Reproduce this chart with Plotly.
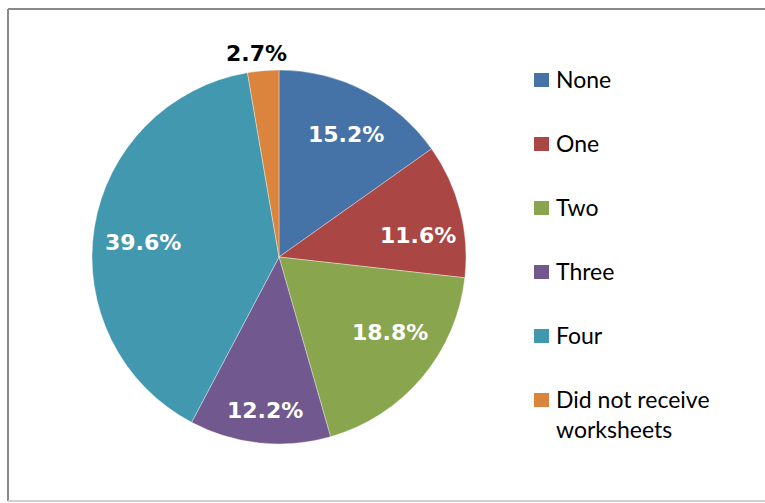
import math
import plotly.graph_objects as go

# Number of worksheets received
categories = ["None", "One", "Two", "Three", "Four", "Did not receive<br>worksheets"]
shares = [15.2, 11.6, 18.8, 12.2, 39.6, 2.7]
colors = ["#4572A7", "#AA4643", "#89A54E", "#71588F", "#4198AF", "#DB843D"]

W, H = 765, 503
cx, cy, R = 279, 257, 187  # pie centre / radius in px

# label placement: distance from centre (px) and small angular nudge (deg)
label_r = [141, 141, 133, 153, 137, 206]
label_nudge = [1.2, 5.0, -6.6, -0.5, -2.3, -1.5]
label_color = ["white"] * 5 + ["black"]

fig = go.Figure()
fig.add_trace(go.Pie(
    labels=categories,
    values=shares,
    sort=False,
    direction="clockwise",
    rotation=0,
    marker=dict(colors=colors, line=dict(color="rgba(255,255,255,0.6)", width=0.6)),
    textinfo="none",
    hoverinfo="label+value",
    showlegend=False,
    domain=dict(x=[(cx - R) / W, (cx + R) / W], y=[1 - (cy + R) / H, 1 - (cy - R) / H]),
))

shapes = []
annotations = []

# Percentage labels at each slice's mid-angle
total = sum(shares)
cum = 0.0
for v, r, nudge, tc in zip(shares, label_r, label_nudge, label_color):
    theta = math.radians((cum + v / 2) / total * 360 + nudge)
    cum += v
    px = cx + r * math.sin(theta)
    py = cy - r * math.cos(theta)
    annotations.append(dict(xref="paper", yref="paper", x=px / W, y=1 - (py + 1.5) / H,
                            xanchor="center", yanchor="middle", showarrow=False,
                            text=f"{v:.1f}%",
                            font=dict(family="DejaVu Sans", size=22, color=tc, weight="bold")))

# Legend drawn as swatches + text
lx, ly0, dy = 534, 80, 64
for i, (name, col) in enumerate(zip(categories, colors)):
    yc = ly0 + i * dy
    shapes.append(dict(type="rect", xref="paper", yref="paper",
                       x0=lx / W, x1=(lx + 15) / W,
                       y0=1 - (yc + 7) / H, y1=1 - (yc - 7) / H,
                       fillcolor=col, line=dict(width=0)))
    annotations.append(dict(xref="paper", yref="paper", x=(lx + 20) / W, y=1 - (yc - 17) / H,
                            xanchor="left", yanchor="top", showarrow=False, align="left",
                            text=name, font=dict(family="Lato", size=23, color="black")))

# Chart frame
shapes.append(dict(type="line", xref="paper", yref="paper", x0=8 / W, x1=1.01, y0=1 - 9 / H, y1=1 - 9 / H,
                   line=dict(color="#8a8a8a", width=2)))
shapes.append(dict(type="line", xref="paper", yref="paper", x0=8 / W, x1=8 / W, y0=1 - 9 / H, y1=1 - 501 / H,
                   line=dict(color="#8a8a8a", width=2)))
shapes.append(dict(type="line", xref="paper", yref="paper", x0=8 / W, x1=1.01, y0=1 - 501 / H, y1=1 - 501 / H,
                   line=dict(color="#d0d0d0", width=2)))

fig.update_layout(
    width=W, height=H,
    margin=dict(l=0, r=0, t=0, b=0),
    paper_bgcolor="white",
    plot_bgcolor="white",
    shapes=shapes,
    annotations=annotations,
)

fig.write_html("out.html")
